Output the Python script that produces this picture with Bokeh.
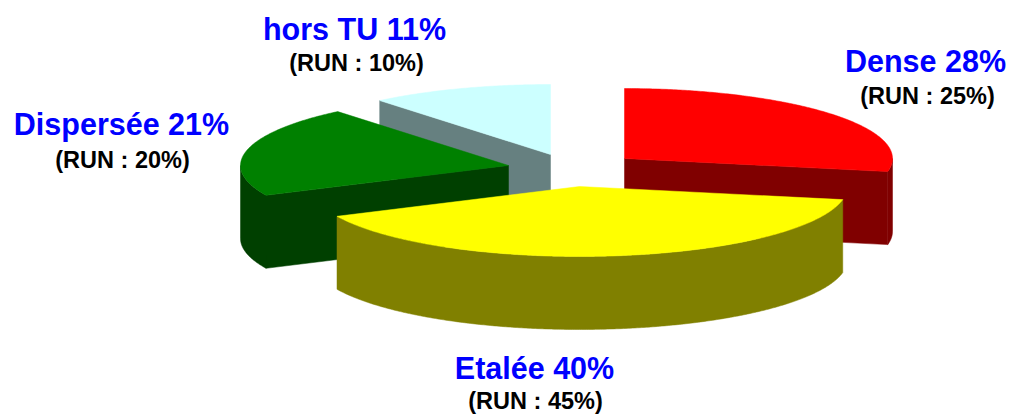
import numpy as np
from bokeh.plotting import figure
from bokeh.models import ColumnDataSource, Range1d
from bokeh.core.properties import value
from bokeh.embed import file_html
from bokeh.resources import INLINE

# data
categories = ["Dense", "Etalée", "Dispersée", "hors TU"]
shares = [28, 40, 21, 11]
run_shares = [25, 45, 20, 10]

# styling
top_colors = ["#FF0000", "#FFFF00", "#008000", "#CCFFFF"]
side_colors = ["#800000", "#808000", "#004000", "#668080"]
centers_x = [624, 579, 508, 550]
centers_y = [158, 186, 165, 154]
label_x = [925, 534, 121, 354]
label_y = [60, 367, 123, 28]
run_x = [927, 535, 122, 356]
run_y = [95, 400, 159, 62]
RX, RY, DEPTH = 268, 70, 73
draw_order = [3, 0, 2, 1]

W, H = 1010, 414
p = figure(width=W, height=H, output_backend="svg", toolbar_location=None,
           x_range=Range1d(0, W), y_range=Range1d(H, 0),
           min_border=0, outline_line_color=None, background_fill_color="white")
p.axis.visible = False
p.grid.visible = False

ends = np.cumsum(shares) / np.sum(shares) * 360.0
starts = np.concatenate([[0.0], ends[:-1]])


def rim(cx, cy, a, b):
    t = np.radians(np.linspace(a, b, max(2, int(abs(b - a)) * 2 + 2)))
    return cx + RX * np.sin(t), cy - RY * np.cos(t)


xs, ys, fills = [], [], []
for i in draw_order:
    a, b, cx, cy = starts[i], ends[i], centers_x[i], centers_y[i]

    def add(px, py, col):
        xs.append(list(px))
        ys.append(list(py))
        fills.append(col)

    def cut(theta):
        ex, ey = rim(cx, cy, theta, theta)
        add([cx, ex[0], ex[0], cx], [cy, ey[0], ey[0] + DEPTH, cy + DEPTH], side_colors[i])

    if a > 180:
        cut(a)
    if b < 180:
        cut(b)
    lo, hi = max(a, 90), min(b, 270)
    if hi > lo:
        rx_, ry_ = rim(cx, cy, lo, hi)
        add(np.concatenate([rx_, rx_[::-1]]),
            np.concatenate([ry_, ry_[::-1] + DEPTH]), side_colors[i])
    tx, ty = rim(cx, cy, a, b)
    add(np.concatenate([[cx], tx]), np.concatenate([[cy], ty]), top_colors[i])

p.patches(xs="xs", ys="ys", fill_color="fills", line_color="fills", line_width=0.5,
          source=ColumnDataSource(dict(xs=xs, ys=ys, fills=fills)))

main = [f"{c} {s}%" for c, s in zip(categories, shares)]
sub = [f"(RUN : {r}%)" for r in run_shares]
p.text(x=label_x, y=label_y, text=main, text_font=value("Liberation Sans"),
       text_font_style="bold", text_font_size="30.5px", text_color="#0000FF",
       text_align="center", text_baseline="middle")
p.text(x=run_x, y=run_y, text=sub, text_font=value("Liberation Sans"),
       text_font_style="bold", text_font_size="23.5px", text_color="#000000",
       text_align="center", text_baseline="middle")

open("out.html", "w").write(file_html(p, INLINE))
